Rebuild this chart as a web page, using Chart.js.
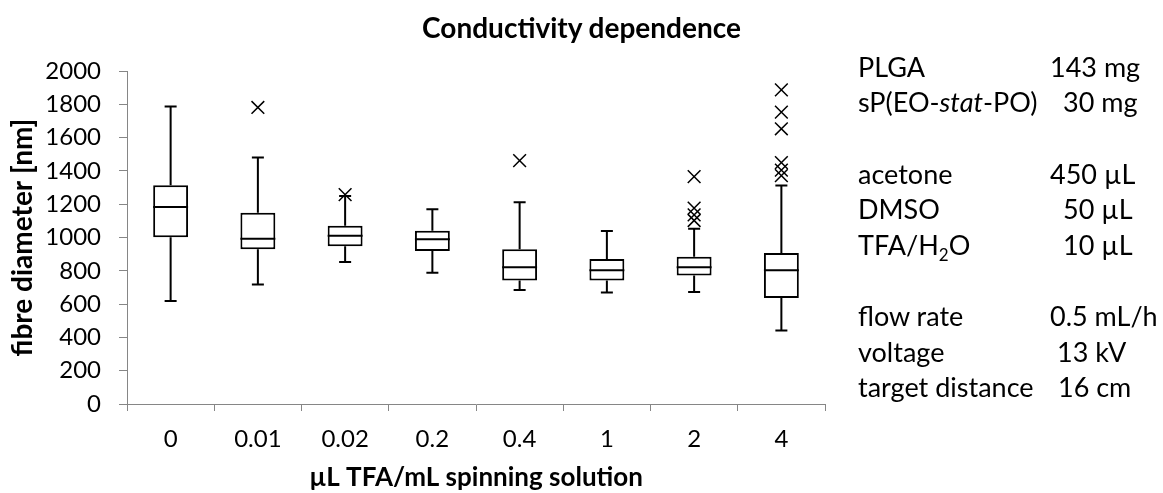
<!DOCTYPE html>
<html>
<head>
<meta charset="utf-8">
<script src="https://cdn.jsdelivr.net/npm/chart.js@4"></script>
<style>
    body { margin: 0; background: #fff; }
    #wrap { position: relative; width: 1163px; height: 493px; font-family: Lato, sans-serif; color: #000; }
    #title { position: absolute; left: 0; top: 9px; width: 1163px; text-align: center; font-weight: bold; font-size: 28px; line-height: 36px; }
    .row { position: absolute; font-size: 27px; line-height: 36px; white-space: nowrap; }
    .lbl { left: 858px; }
    .row sub { font-size: 17px; line-height: 0; }
</style>
</head>
<body>
<div id="wrap">
    <canvas id="chart" width="1163" height="493"></canvas>
    <div id="title">Conductivity dependence</div>

    <!-- spinning parameters text box -->
    <div class="row lbl" style="top:49px">PLGA</div>
    <div class="row" style="top:49px; left:1050px">143 mg</div>
    <div class="row lbl" style="top:84px">sP(EO-<i>stat</i>-PO)</div>
    <div class="row" style="top:84px; left:1063px">30 mg</div>

    <div class="row lbl" style="top:156px">acetone</div>
    <div class="row" style="top:156px; left:1050px">450 µL</div>
    <div class="row lbl" style="top:191px">DMSO</div>
    <div class="row" style="top:191px; left:1063px">50 µL</div>
    <div class="row lbl" style="top:227px">TFA/H<sub>2</sub>O</div>
    <div class="row" style="top:227px; left:1063px">10 µL</div>

    <div class="row lbl" style="top:298px">flow rate</div>
    <div class="row" style="top:298px; left:1050px">0.5 mL/h</div>
    <div class="row lbl" style="top:334px">voltage</div>
    <div class="row" style="top:334px; left:1057px">13 kV</div>
    <div class="row lbl" style="top:369px">target distance</div>
    <div class="row" style="top:369px; left:1058px">16 cm</div>
</div>
<script>
// Box plot values per TFA concentration
const categories = ['0', '0.01', '0.02', '0.2', '0.4', '1', '2', '4'];
const whiskerLow = [618, 718, 853, 788, 684, 670, 672, 442];
const q1 = [1001, 929, 947, 919, 742, 742, 772, 636];
const median = [1183, 993, 1011, 989, 822, 804, 822, 804];
const q3 = [1314, 1149, 1071, 1041, 929, 871, 884, 907];
const whiskerHigh = [1787, 1480, 1250, 1170, 1212, 1039, 1053, 1312];
const outliers = [
    [],
    [1781],
    [1258],
    [],
    [1462],
    [],
    [1366, 1176, 1136, 1102],
    [1887, 1753, 1653, 1450, 1405, 1372]
];
const yMin = 0;
const yMax = 2000;
const yStep = 200;

const axisGray = '#868686';

// Draws whiskers, caps and median lines on top of the floating bars
const whiskerPlugin = {
    id: 'whiskers',
    afterDatasetsDraw(chart) {
        const ctx = chart.ctx;
        const yScale = chart.scales.y;
        const bars = chart.getDatasetMeta(0).data;
        ctx.save();
        ctx.strokeStyle = '#000';
        ctx.lineWidth = 2;
        bars.forEach((bar, i) => {
            const x = bar.x;
            const half = bar.width / 2;
            const cap = 6;
            const yHi = yScale.getPixelForValue(whiskerHigh[i]);
            const yQ3 = yScale.getPixelForValue(q3[i]);
            const yQ1 = yScale.getPixelForValue(q1[i]);
            const yLo = yScale.getPixelForValue(whiskerLow[i]);
            const yMed = yScale.getPixelForValue(median[i]);
            ctx.beginPath();
            ctx.moveTo(x, yHi); ctx.lineTo(x, yQ3);
            ctx.moveTo(x - cap, yHi); ctx.lineTo(x + cap, yHi);
            ctx.moveTo(x, yQ1); ctx.lineTo(x, yLo);
            ctx.moveTo(x - cap, yLo); ctx.lineTo(x + cap, yLo);
            ctx.moveTo(x - half, yMed); ctx.lineTo(x + half, yMed);
            ctx.stroke();
        });
        ctx.restore();
    }
};

const outlierPoints = [];
outliers.forEach((list, i) => {
    list.forEach(v => outlierPoints.push({ x: categories[i], y: v }));
});

Chart.defaults.font.family = 'Lato, sans-serif';
Chart.defaults.color = '#000';

new Chart(document.getElementById('chart').getContext('2d'), {
    type: 'bar',
    data: {
        labels: categories,
        datasets: [{
            type: 'bar',
            data: q1.map((v, i) => [v, q3[i]]),
            backgroundColor: '#fff',
            borderColor: '#000',
            borderWidth: 2,
            borderSkipped: false,
            barPercentage: 0.4,
            categoryPercentage: 1
        }, {
            type: 'scatter',
            data: outlierPoints,
            pointStyle: 'crossRot',
            radius: 9,
            borderColor: '#000',
            borderWidth: 1.5,
            backgroundColor: 'transparent'
        }]
    },
    options: {
        responsive: false,
        animation: false,
        layout: { padding: { top: 71, right: 338, bottom: 0, left: 0 } },
        plugins: {
            legend: { display: false },
            tooltip: { enabled: false }
        },
        scales: {
            x: {
                type: 'category',
                offset: true,
                grid: { drawOnChartArea: false, tickLength: 7, color: axisGray, offset: true },
                border: { color: axisGray, width: 1 },
                ticks: { font: { size: 24 }, padding: 14, maxRotation: 0 },
                title: {
                    display: true,
                    text: 'µL TFA/mL spinning solution',
                    font: { size: 26, weight: 'bold' },
                    padding: { top: 0, bottom: 0 }
                },
                afterFit(scale) { scale.height = 89; }
            },
            y: {
                min: yMin,
                max: yMax,
                grid: { drawOnChartArea: false, tickLength: 8, color: axisGray },
                border: { color: axisGray, width: 1 },
                ticks: { stepSize: yStep, font: { size: 24 }, padding: 18, callback: v => String(v) },
                title: {
                    display: true,
                    text: 'fibre diameter [nm]',
                    font: { size: 28, weight: 'bold' },
                    padding: { top: 6, bottom: 0 }
                },
                afterFit(scale) { scale.width = 127; }
            }
        }
    },
    plugins: [whiskerPlugin]
});
</script>
</body>
</html>
